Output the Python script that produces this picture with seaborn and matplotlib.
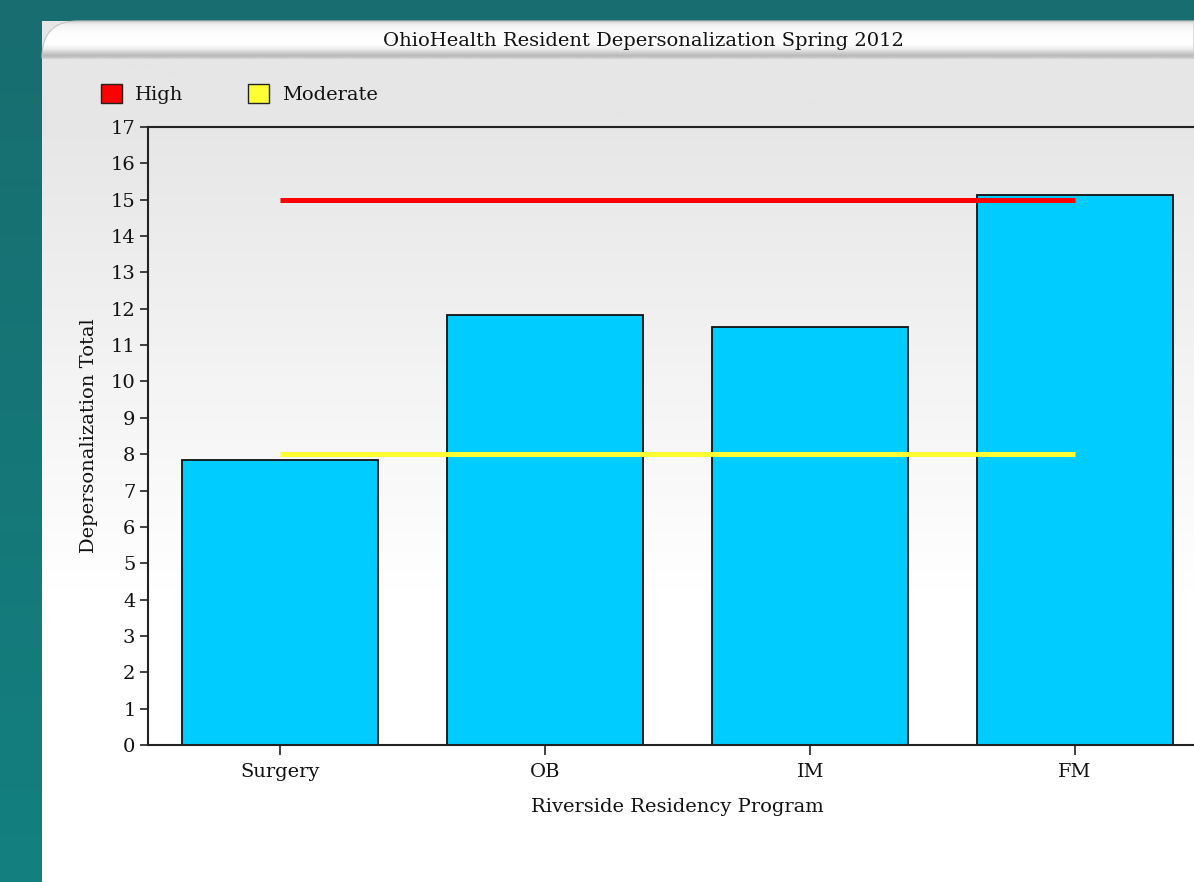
import numpy as np
import matplotlib
matplotlib.use("Agg")
import matplotlib.pyplot as plt
from matplotlib.patches import Patch, PathPatch
from matplotlib.path import Path
import seaborn as sns
import pandas as pd

# --- chart data ---
programs = ["Surgery", "OB", "IM", "FM"]
depersonalization = [7.85, 11.83, 11.5, 15.13]
high_threshold = 15
moderate_threshold = 8
legend_labels = ["High", "Moderate"]
legend_colors = ["#FF0000", "#FFFF33"]
title = "OhioHealth Resident Depersonalization Spring 2012"
x_label = "Riverside Residency Program"
y_label = "Depersonalization Total"

sns.set_theme(style="white")
plt.rcParams["font.family"] = ["DejaVu Serif"]
FS = 14
TXT = "#111111"

W, H = 1194, 882
fig = plt.figure(figsize=(W / 100, H / 100), dpi=100, facecolor="#186D6F")

# --- background layer in pixel coordinates ---
bg = fig.add_axes([0, 0, 1, 1], zorder=-10)
bg.set_xlim(0, W)
bg.set_ylim(H, 0)
bg.axis("off")

# teal frame, slightly brighter toward the bottom on the left strip
teal = np.linspace(0, 1, 256).reshape(-1, 1)
c0 = np.array([0x18, 0x6D, 0x6F]) / 255
c1 = np.array([0x13, 0x80, 0x80]) / 255
teal_img = c0 + (c1 - c0) * teal[..., None]
bg.imshow(teal_img, extent=(0, W, H, 0), aspect="auto", zorder=0)

# white panel with a soft grey gradient behind the plot
ys = np.linspace(21, H, 600)
g = np.clip(230 + (ys - 120) * (25 / 470), 230, 255) / 255
panel = np.repeat(g[:, None], 3, axis=1)[:, None, :]
bg.imshow(panel, extent=(42, W, H, 21), aspect="auto", zorder=1)

# rounded title bar
verts = [(42, 58), (42, 40), (48, 21), (78, 21), (W, 21), (W, 58), (42, 58)]
codes = [Path.MOVETO, Path.CURVE4, Path.CURVE4, Path.CURVE4,
         Path.LINETO, Path.LINETO, Path.CLOSEPOLY]
bar_path = Path(verts, codes)
stops_y = [21, 22.5, 25, 32, 44, 49, 53, 56, 57.5, 58]
stops_v = [0.78, 0.88, 0.95, 0.99, 1.0, 0.93, 0.80, 0.72, 0.80, 0.88]
ty = np.linspace(21, 58, 200)
tv = np.interp(ty, stops_y, stops_v)
tb = np.repeat(tv[:, None], 3, axis=1)[:, None, :]
im = bg.imshow(tb, extent=(42, W, 58, 21), aspect="auto", zorder=2)
clip = PathPatch(bar_path, transform=bg.transData, facecolor="none", edgecolor="none")
bg.add_patch(clip)
im.set_clip_path(clip)
bg.add_patch(PathPatch(bar_path, facecolor="none", edgecolor="#C4C4C4", lw=0.8, zorder=3))

fig.text(643 / W, 1 - 41 / H, title, ha="center", va="center", fontsize=FS, color=TXT)

# --- main plot ---
ax = fig.add_axes([148 / W, 1 - 745 / H, (1207.5 - 148) / W, (745 - 127) / H])
ax.set_facecolor("none")
df = pd.DataFrame({"program": programs, "value": depersonalization})
sns.barplot(data=df, x="program", y="value", color="#00CCFF", saturation=1,
            edgecolor="#111111", linewidth=1.3, width=0.74, ax=ax, zorder=2)

ax.hlines(high_threshold, 0, len(programs) - 1, colors=legend_colors[0], lw=3.6, zorder=3)
ax.hlines(moderate_threshold, 0, len(programs) - 1, colors=legend_colors[1], lw=3.6, zorder=3)

ax.set_xlim(-0.5, len(programs) - 0.5)
ax.set_ylim(0, 17)
ax.set_yticks(range(0, 18))
ax.set_xlabel(x_label, fontsize=FS, color=TXT, labelpad=12)
ax.set_ylabel(y_label, fontsize=FS, color=TXT, labelpad=9)
ax.tick_params(axis="both", direction="out", length=6, width=1.2, color="#222222",
               labelsize=FS, labelcolor=TXT, pad=3)
ax.tick_params(axis="x", length=7, pad=6)
ax.tick_params(left=True, bottom=True)
for side in ["left", "bottom", "top"]:
    ax.spines[side].set_visible(True)
    ax.spines[side].set_color("#222222")
    ax.spines[side].set_linewidth(1.5)
ax.spines["right"].set_visible(False)
ax.grid(False)

handles = [Patch(facecolor=c, edgecolor="#222222", lw=1) for c in legend_colors]
leg = fig.legend(handles, legend_labels, loc="upper left",
                 bbox_to_anchor=(101 / W, 1 - 84 / H), ncol=2, frameon=False,
                 fontsize=FS, handlelength=1.1, handleheight=1.1,
                 handletextpad=0.65, columnspacing=3.3, borderaxespad=0,
                 borderpad=0)
for t in leg.get_texts():
    t.set_color(TXT)

fig.savefig("out.png", dpi=100, facecolor=fig.get_facecolor())
